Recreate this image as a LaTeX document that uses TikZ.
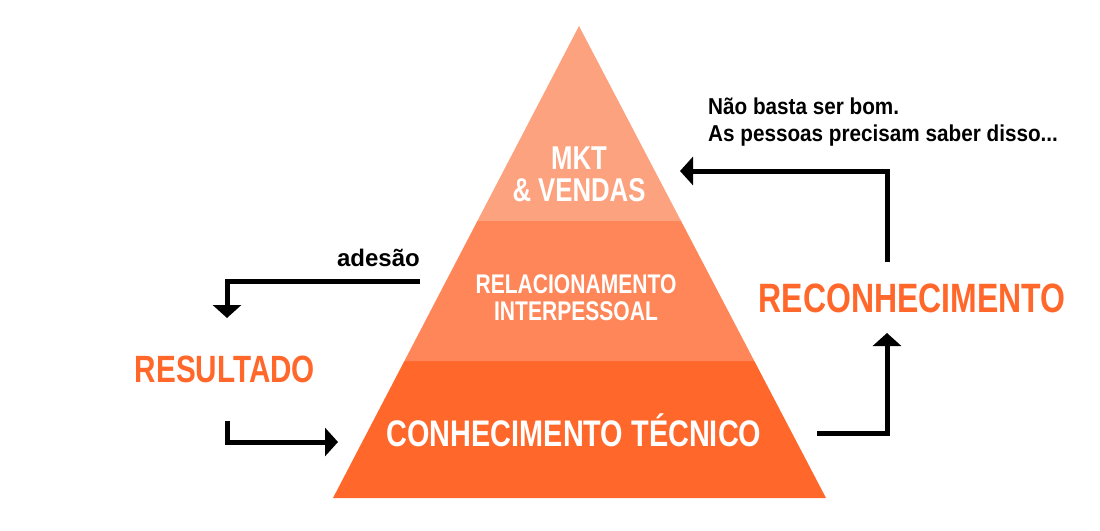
\documentclass[tikz,border=0pt]{standalone}
\usepackage{fontspec}
\setmainfont{Liberation Sans}
\newfontfamily\condfont[FakeStretch=0.78]{Liberation Sans}
\newfontfamily\notafont[FakeStretch=0.9]{Liberation Sans}
\usetikzlibrary{arrows.meta,calc,positioning}
\definecolor{camadaTopo}{HTML}{FDA27F}
\definecolor{camadaMeio}{HTML}{FF8659}
\definecolor{camadaBase}{HTML}{FF672B}

\begin{document}
\begin{tikzpicture}[x=1pt, y=-1pt,
  camada/.style={fill=#1, draw=none},
  rotulo/.style={font=\condfont\bfseries\fontsize{#1}{#1}\selectfont,
                 text=white, align=center, inner sep=0pt},
  destaque/.style={font=\condfont\bfseries\fontsize{#1}{#1}\selectfont,
                   text=camadaBase, inner sep=0pt},
  nota/.style={font=\notafont\bfseries\fontsize{23}{27}\selectfont,
               align=left, inner sep=0pt},
  seta/.style={-{Triangle[length=13pt, width=28pt]}, line width=5pt}
]
  \useasboundingbox (0,0) rectangle (1100,530);

  % piramide
  \coordinate (topo) at (579,26);
  \coordinate (baseE) at (333,498);
  \coordinate (baseD) at (826,498);
  \coordinate (meioE) at ($(baseE)!0.290!(topo)$);
  \coordinate (meioD) at ($(baseD)!0.290!(topo)$);
  \coordinate (altoE) at ($(baseE)!0.587!(topo)$);
  \coordinate (altoD) at ($(baseD)!0.587!(topo)$);
  \fill[camada=camadaBase] (baseE) -- (baseD) -- (meioD) -- (meioE) -- cycle;
  \fill[camada=camadaMeio] (meioE) -- (meioD) -- (altoD) -- (altoE) -- cycle;
  \fill[camada=camadaTopo] (altoE) -- (altoD) -- (topo) -- cycle;

  \node[rotulo=33] (mkt) at (579,174) {MKT\\[-1pt]\& VENDAS};
  \node[rotulo=27] (rel) at (576,298) {RELACIONAMENTO\\INTERPESSOAL};
  \node[rotulo=37] (tec) at (574,430) {CONHECIMENTO TÉCNICO};

  \node[destaque=38] (resultado) at (225,369) {RESULTADO};
  \node[destaque=41] (reconhecimento) at (912,298) {RECONHECIMENTO};
  \node[font=\bfseries\fontsize{24}{24}\selectfont, inner sep=0pt,
        anchor=south east] (adesao) at (420,267) {adesão};
  \node[nota, anchor=north west] (lembrete) at (708,98)
    {Não basta ser bom.\\As pessoas precisam saber disso...};

  % setas
  \coordinate (saidaRec) at (887,262);
  \coordinate (chegaMkt) at (680,171);
  \coordinate (saidaAdesao) at (420,281);
  \coordinate (chegaRes) at (227,318);
  \coordinate (saidaRes) at (227,421);
  \coordinate (chegaTec) at (338,442);
  \coordinate (saidaTec) at (817,433);
  \coordinate (chegaRec) at (887,333);

  \draw[seta] (saidaRec) |- (chegaMkt);
  \draw[seta] (saidaAdesao) -| (chegaRes);
  \draw[seta] (saidaRes) |- (chegaTec);
  \draw[seta] (saidaTec) -| (chegaRec);
\end{tikzpicture}
\end{document}
